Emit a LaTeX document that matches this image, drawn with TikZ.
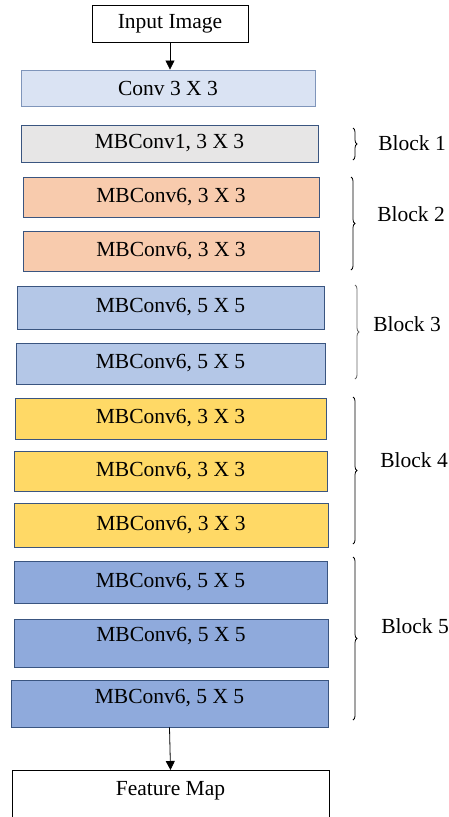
\documentclass[tikz,border=0pt]{standalone}
\usepackage{fontspec}
\setmainfont{Liberation Serif}
\usetikzlibrary{arrows.meta,decorations.pathreplacing}
\definecolor{cConv}{HTML}{DAE3F3}
\definecolor{cGray}{HTML}{E7E6E6}
\definecolor{cOrange}{HTML}{F8CBAD}
\definecolor{cLBlue}{HTML}{B4C7E7}
\definecolor{cYellow}{HTML}{FFD966}
\definecolor{cBlue}{HTML}{8FAADC}
\definecolor{cEdge}{HTML}{3A5580}
\definecolor{cEdgeLight}{HTML}{7F95BA}
\begin{document}
\begin{tikzpicture}[x=1pt,y=-1pt,
  every node/.style={font=\fontsize{21.5}{25}\selectfont},
  box/.style={draw=cEdge, line width=0.9pt, rectangle, inner sep=0pt},
  plainbox/.style={draw=black, line width=0.9pt, rectangle, inner sep=0pt, fill=white},
  arr/.style={line width=0.8pt, -{Triangle[length=9pt,width=9pt]}},
  brc/.style={line width=0.8pt, decorate, decoration={brace, amplitude=4pt}},
  lbl/.style={anchor=center}
]
\clip (0,0) rectangle (449,817);
\fill[white] (0,0) rectangle (449,817);

\node[plainbox, minimum width=156pt, minimum height=37pt] (inp) at (170,23.5) {Input Image};
\node[box, draw=cEdgeLight, fill=cConv, minimum width=294pt, minimum height=36pt] (conv) at (168,88) {Conv 3 X 3};
\node[box, fill=cGray, minimum width=297pt, minimum height=37pt] (b1) at (169.5,143.5) {MBConv1, 3 X 3};
\node[box, fill=cOrange, minimum width=296pt, minimum height=40pt] (b2a) at (171,197) {MBConv6, 3 X 3};
\node[box, fill=cOrange, minimum width=296pt, minimum height=40pt] (b2b) at (171,251) {MBConv6, 3 X 3};
\node[box, fill=cLBlue, minimum width=307pt, minimum height=43pt] (b3a) at (170.5,307.5) {MBConv6, 5 X 5};
\node[box, fill=cLBlue, minimum width=309pt, minimum height=41pt] (b3b) at (170.5,363.5) {MBConv6, 5 X 5};
\node[box, fill=cYellow, minimum width=311pt, minimum height=41pt] (b4a) at (170.5,418.5) {MBConv6, 3 X 3};
\node[box, fill=cYellow, minimum width=313pt, minimum height=40pt] (b4b) at (170.5,471) {MBConv6, 3 X 3};
\node[box, fill=cYellow, minimum width=314pt, minimum height=44pt] (b4c) at (171,525) {MBConv6, 3 X 3};
\node[box, fill=cBlue, minimum width=313pt, minimum height=42pt] (b5a) at (170.5,582) {MBConv6, 5 X 5};
\node[box, fill=cBlue, minimum width=314pt, minimum height=48pt, text height=13pt, text depth=17pt] (b5b) at (171,643) {MBConv6, 5 X 5};
\node[box, fill=cBlue, minimum width=317pt, minimum height=47pt, text height=13pt, text depth=14pt] (b5c) at (169.5,703.5) {MBConv6, 5 X 5};
\node[plainbox, anchor=north, minimum width=317pt, inner ysep=7pt, text height=18pt, text depth=32pt] (fm) at (170.5,770) {Feature Map};

\draw[arr] (inp.south) -- (inp.south |- conv.north);
\draw[arr] (b5c.south) -- (fm.north);

\coordinate (t1) at (353,128); \coordinate (e1) at (353,160);
\coordinate (t2) at (351,177); \coordinate (e2) at (351,270);
\coordinate (t3) at (355,285); \coordinate (e3) at (355,379);
\coordinate (t4) at (353,397); \coordinate (e4) at (353,544);
\coordinate (t5) at (353,557); \coordinate (e5) at (353,720);
\draw[brc] (t1) -- (e1);
\draw[brc] (t2) -- (e2);
\draw[brc, draw=black!60] (t3) -- (e3);
\draw[brc] (t4) -- (e4);
\draw[brc] (t5) -- (e5);

\node[lbl] (l1) at (412,143) {Block 1};
\node[lbl] (l2) at (411,214) {Block 2};
\node[lbl] (l3) at (407,324) {Block 3};
\node[lbl] (l4) at (414,460) {Block 4};
\node[lbl] (l5) at (415,626) {Block 5};
\end{tikzpicture}
\end{document}
